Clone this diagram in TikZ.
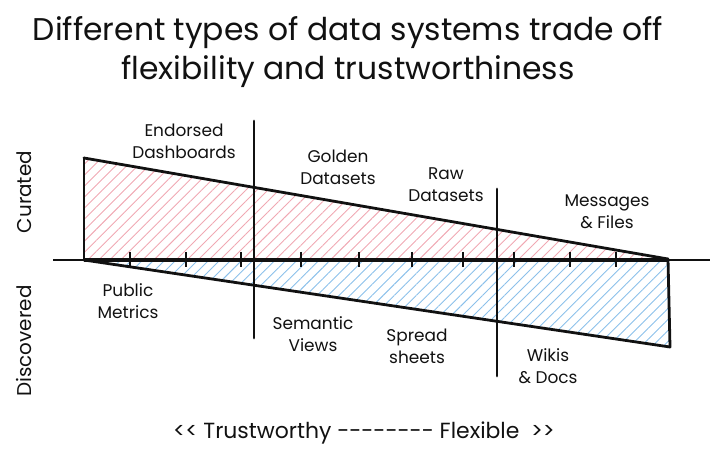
\documentclass[tikz,border=0pt]{standalone}
\usepackage{fontspec}
\setmainfont{Poppins}
\usepackage{xcolor}
\usetikzlibrary{patterns.meta,positioning}
\definecolor{tinta}{HTML}{111111}
\definecolor{rosa}{HTML}{F0A8B3}
\definecolor{celeste}{HTML}{8BC0EA}

\begin{document}
\begin{tikzpicture}[x=1bp,y=-1bp,
    rotulo/.style={align=center,inner sep=0pt,text=tinta,
                   font=\fontsize{17}{22}\selectfont},
    lado/.style={tinta,line width=2.8pt,line join=round,line cap=round},
    rayas/.style={pattern={Lines[angle=45,distance=7.8bp,line width=0.9bp]},
                  pattern color=#1}]
  \useasboundingbox (0,0) rectangle (720,458);
  \node[align=center,inner sep=0pt,text=tinta,
        font=\fontsize{31.5}{40}\selectfont] (titulo) at (348,52)
    {Different types of data systems trade off\\flexibility and trustworthiness};
  % vertices of the two wedges
  \coordinate (o) at (84,260);
  \coordinate (f) at (668,259);
  \coordinate (c) at (84,158);
  \coordinate (d) at (670,347);
  \fill[rayas=rosa] (c) -- (o) -- (f) -- cycle;
  \fill[rayas=celeste] (o) -- (f) -- (d) -- cycle;
  % axis
  \coordinate (izq) at (53,260);
  \coordinate (der) at (710,260);
  \draw[tinta,line width=1.8pt] (izq) -- (der);
  \draw[tinta,line width=4.4pt] (o) -- (f |- o);
  \foreach \x in {130,186,241,301,359,412,463,514,570,616}
    \draw[tinta,line width=1.8pt] (\x,252) -- (\x,267);
  \draw[lado] (c) -- (o);
  \draw[lado] (c) -- (f);
  \draw[lado] (o) -- (d) -- (f);
  % dividers
  \coordinate (s1) at (254,121);
  \coordinate (i1) at (254,338);
  \coordinate (s2) at (497,189);
  \coordinate (i2) at (497,376);
  \draw[lado] (s1) -- (i1);
  \draw[lado] (s2) -- (i2);
  % labels
  \node[rotulo] (endorsed) at (184,141) {Endorsed\\Dashboards};
  \node[rotulo] (golden) at (338,167) {Golden\\Datasets};
  \node[rotulo] (raw) at (446,185) {Raw\\Datasets};
  \node[rotulo] (messages) at (607,212) {Messages\\\& Files};
  \node[rotulo] (public) at (128,301) {Public\\Metrics};
  \node[rotulo] (semantic) at (313,334) {Semantic\\Views};
  \node[rotulo] (spread) at (417,346) {Spread\\sheets};
  \node[rotulo] (wikis) at (548,366) {Wikis\\\& Docs};
  \node[rotulo,rotate=90,font=\fontsize{20}{24}\selectfont] (curated) at (24,192) {Curated};
  \node[rotulo,rotate=90,font=\fontsize{20}{24}\selectfont] (discovered) at (24,341) {Discovered};
  \node[rotulo,font=\fontsize{22}{26}\selectfont] (escala) at (364,433)
    {<{}< Trustworthy -{}-{}-{}-{}-{}-{}-{}- Flexible\ \ >{}>};
\end{tikzpicture}
\end{document}
